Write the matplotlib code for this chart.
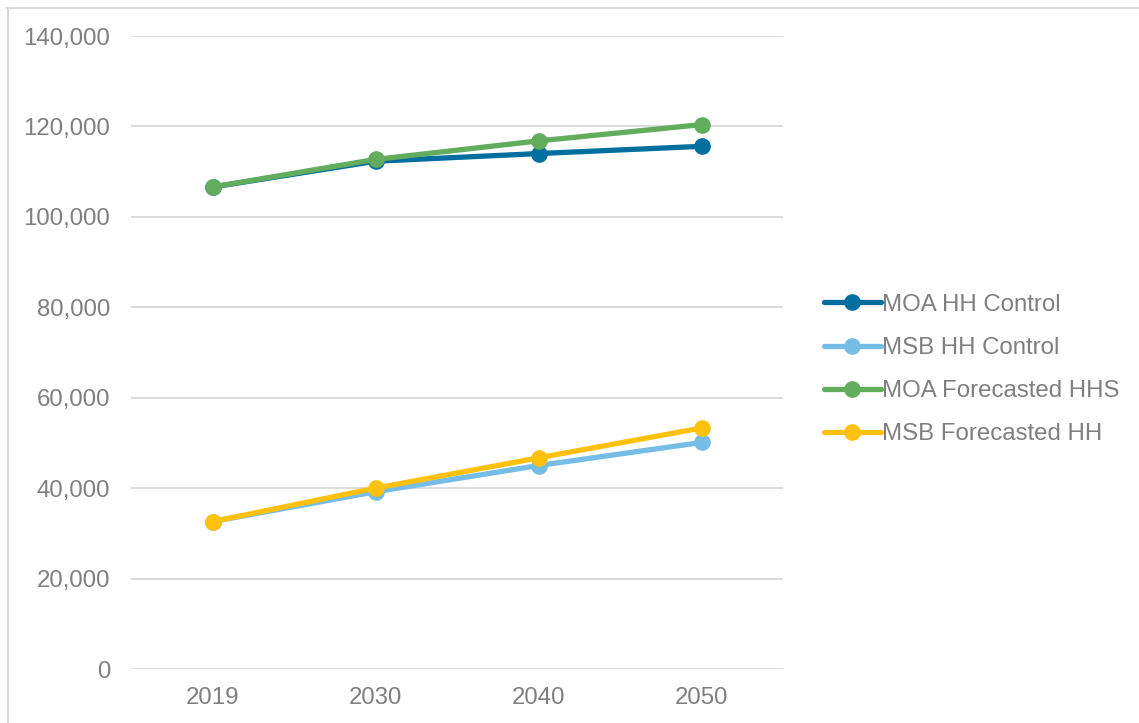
import matplotlib
matplotlib.use("Agg")
import matplotlib.pyplot as plt
from matplotlib.lines import Line2D

years = ["2019", "2030", "2040", "2050"]
moa_hh_control = [106600, 112300, 114000, 115600]
msb_hh_control = [32600, 39200, 45000, 50100]
moa_forecasted_hhs = [106600, 112700, 116800, 120400]
msb_forecasted_hh = [32600, 40000, 46700, 53300]

series = [
    ("MOA HH Control", moa_hh_control, "#006E9F"),
    ("MSB HH Control", msb_hh_control, "#75BDE7"),
    ("MOA Forecasted HHS", moa_forecasted_hhs, "#61AD5D"),
    ("MSB Forecasted HH", msb_forecasted_hh, "#FFC10E"),
]

plt.rcParams["font.family"] = ["Liberation Sans", "DejaVu Sans"]
text_color = "#7F7F7F"

W, H = 1139, 723
fig = plt.figure(figsize=(W / 100, H / 100), dpi=100)
ax = fig.add_axes([131 / W, 1 - 669 / H, (783 - 131) / W, (669 - 36) / H])

x = list(range(len(years)))
for label, values, color in series:
    ax.plot(x, values, color=color, lw=3.8, marker="o", markersize=11,
            solid_capstyle="round", label=label)

ax.set_xlim(-0.5, len(years) - 0.5)
ax.set_ylim(0, 140000)
ax.set_yticks(range(0, 140001, 20000))
ax.yaxis.set_major_formatter(matplotlib.ticker.FuncFormatter(lambda v, p: f"{int(v):,}"))
ax.set_xticks(x)
ax.set_xticklabels(years)
ax.grid(axis="y", color="#D9D9D9", lw=1.3)
ax.set_axisbelow(True)
for s in ax.spines.values():
    s.set_visible(False)
ax.tick_params(axis="both", length=0, labelsize=17.3, colors=text_color)
ax.tick_params(axis="y", pad=15)
ax.tick_params(axis="x", pad=13)

leg = fig.legend(loc="center left", bbox_to_anchor=(814 / W, 1 - 369.5 / H),
                 frameon=False, fontsize=17.3, handlelength=2.4,
                 handletextpad=0.05, labelspacing=0.88, borderaxespad=0)
for t in leg.get_texts():
    t.set_color(text_color)

# outer frame edges
fig.add_artist(Line2D([7 / W, 1], [1 - 7.5 / H, 1 - 7.5 / H], color="#D9D9D9", lw=1.5,
                      transform=fig.transFigure))
fig.add_artist(Line2D([7.5 / W, 7.5 / W], [0, 1 - 7.5 / H], color="#D9D9D9", lw=1.5,
                      transform=fig.transFigure))

fig.savefig("out.png", dpi=100)
